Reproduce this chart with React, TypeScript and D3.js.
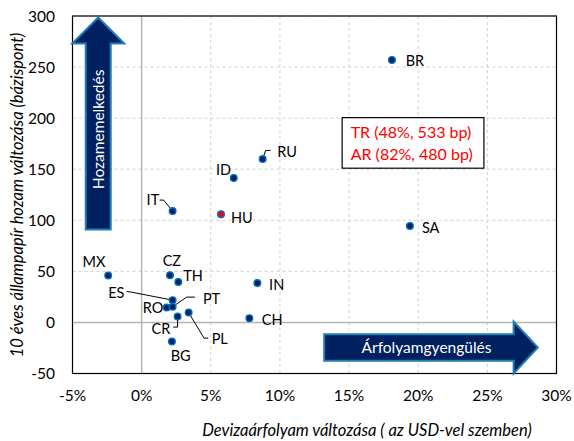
import React from "react";
import * as d3 from "d3";

const countries = ["BR", "RU", "ID", "IT", "HU", "SA", "MX", "CZ", "TH", "ES", "RO", "PT", "CR", "PL", "BG", "IN", "CH"];
const fxChange = [18.1, 8.75, 6.66, 2.24, 5.74, 19.4, -2.42, 2.05, 2.65, 2.24, 1.81, 2.24, 2.6, 3.4, 2.19, 8.37, 7.79];
const yieldChange = [257, 160, 141.5, 109, 106, 94.5, 46, 46.3, 39.7, 21.8, 14.6, 15.3, 5.8, 9.7, -18.7, 38.5, 4.2];
const highlighted = ["HU"];
const xTicks = [-5, 0, 5, 10, 15, 20, 25, 30];
const yTicks = [-50, 0, 50, 100, 150, 200, 250, 300];
const noteLines = ["TR (48%, 533 bp)", "AR (82%, 480 bp)"];

// layout (pixel offsets of labels relative to their point)
const labelOffsets: Record<string, [number, number]> = {
  BR: [13.7, 0.7], RU: [14.6, -7], ID: [-17.7, -7.5], IT: [-26, -11], HU: [10, 4], SA: [12, 2.3],
  MX: [-25.6, -13], CZ: [-7.3, -14.3], TH: [5, -6], ES: [-64.4, -7], RO: [-24, 0], PT: [30.3, -7.7],
  CR: [-26, 12.6], PL: [23, 26.6], BG: [-1.3, 14], IN: [11.7, 1.7], CH: [12.4, 1.7],
};
const leaders: Record<string, [number, number][]> = {
  RU: [[0, 0], [3, -8.6], [8, -8.6]],
  IT: [[0, 0], [-9, -11], [-13, -11]],
  ES: [[0, 0], [-41, -8], [-46, -8.6]],
  PT: [[0, 0], [14, -9.7], [22.3, -9.7]],
  CR: [[0, 0], [0, 10.6], [-4.4, 10.6]],
  PL: [[0, 0], [15.3, 25.6], [19.6, 25.6]],
};

const W = 574, H = 441;
const FONT = "Lato, 'Open Sans', sans-serif";
const NAVY = "#002060";
const EDGE = "#1f7fb5";

export default function App() {
  const x = d3.scaleLinear().domain([-5, 30]).range([72.5, 556.5]);
  const y = d3.scaleLinear().domain([-50, 300]).range([373.5, 16]);
  const [x0, x1] = x.range();
  const [yb, yt] = y.range();

  // vertical arrow
  const vx = x(-3.14);
  const vArrow = d3.path();
  vArrow.moveTo(vx, y(298.5));
  vArrow.lineTo(vx + 26, y(273));
  vArrow.lineTo(vx + 12.5, y(273));
  vArrow.lineTo(vx + 12.5, y(91));
  vArrow.lineTo(vx - 12.5, y(91));
  vArrow.lineTo(vx - 12.5, y(273));
  vArrow.lineTo(vx - 26, y(273));
  vArrow.closePath();

  // horizontal arrow
  const hy = y(-24.5);
  const hArrow = d3.path();
  hArrow.moveTo(x(28.65), hy);
  hArrow.lineTo(x(26.9), hy - 26);
  hArrow.lineTo(x(26.9), hy - 13.2);
  hArrow.lineTo(x(13.2), hy - 13.2);
  hArrow.lineTo(x(13.2), hy + 13.2);
  hArrow.lineTo(x(26.9), hy + 13.2);
  hArrow.lineTo(x(26.9), hy + 26);
  hArrow.closePath();

  const line = d3.line<[number, number]>();

  const boxL = x(14.5), boxR = x(24.75), boxT = y(200.5), boxB = y(151);

  return (
    <svg width={W} height={H} style={{ position: "absolute", left: 0, top: 0, background: "#fff" }} fontFamily={FONT}>
      <rect width={W} height={H} fill="#fff" />
      {/* grid */}
      {xTicks.filter((t) => t !== 0).map((t) => (
        <line key={"gx" + t} x1={x(t)} x2={x(t)} y1={yt} y2={yb} stroke="#d0d0d0" strokeDasharray="3,3" />
      ))}
      {yTicks.filter((t) => t !== 0).map((t) => (
        <line key={"gy" + t} x1={x0} x2={x1} y1={y(t)} y2={y(t)} stroke="#d0d0d0" strokeDasharray="3,3" />
      ))}
      <line x1={x(0)} x2={x(0)} y1={yt} y2={yb} stroke="#b4b4b4" strokeWidth={1.5} />
      <line x1={x0} x2={x1} y1={y(0)} y2={y(0)} stroke="#b4b4b4" strokeWidth={1.5} />
      <rect x={x0} y={yt} width={x1 - x0} height={yb - yt} fill="none" stroke="#000" strokeWidth={1.2} />

      {/* arrows */}
      <path d={vArrow.toString()} fill={NAVY} stroke={EDGE} strokeWidth={2} />
      <text transform={`translate(${vx + 5.5},${y(189)}) rotate(-90)`} textAnchor="middle" fill="#fff" fontSize={15.5}>
        Hozamemelkedés
      </text>
      <path d={hArrow.toString()} fill={NAVY} stroke={EDGE} strokeWidth={2} />
      <text x={x(20.6)} y={hy + 5.5} textAnchor="middle" fill="#fff" fontSize={15.5}>
        Árfolyamgyengülés
      </text>

      {/* leaders */}
      {countries.map((c, i) =>
        leaders[c] ? (
          <path
            key={"l" + c}
            d={line(leaders[c].map(([dx, dy]) => [x(fxChange[i]) + dx, y(yieldChange[i]) + dy]) as [number, number][]) || ""}
            fill="none"
            stroke="#000"
            strokeWidth={1}
          />
        ) : null
      )}

      {/* points */}
      {countries.map((c, i) => (
        <circle
          key={"p" + c}
          cx={x(fxChange[i])}
          cy={y(yieldChange[i])}
          r={3.3}
          fill={highlighted.includes(c) ? "#ff0000" : NAVY}
          stroke="#0070c0"
          strokeWidth={1.4}
        />
      ))}

      {/* labels */}
      {countries.map((c, i) => (
        <text
          key={"t" + c}
          x={x(fxChange[i]) + labelOffsets[c][0]}
          y={y(yieldChange[i]) + labelOffsets[c][1] + 5}
          fontSize={14.5}
          fill="#000"
        >
          {c}
        </text>
      ))}

      {/* note box */}
      <rect x={boxL} y={boxT} width={boxR - boxL} height={boxB - boxT} fill="#fff" stroke="#000" strokeWidth={1.2} />
      {noteLines.map((t, i) => (
        <text key={t} x={boxL + 8.5} y={boxT + 20.5 + i * 22} fontSize={16} fill="#ff0000">
          {t}
        </text>
      ))}

      {/* axes labels */}
      {yTicks.map((t) => (
        <text key={"yt" + t} x={55} y={y(t) + 5.5} textAnchor="end" fontSize={15.5} fill="#000">
          {t}
        </text>
      ))}
      {xTicks.map((t) => (
        <text key={"xt" + t} x={x(t)} y={401} textAnchor="middle" fontSize={15.5} fill="#000">
          {t}%
        </text>
      ))}
      <text
        transform={`translate(23,${195}) rotate(-90)`}
        textAnchor="middle"
        fontSize={16.5}
        fontStyle="italic"
        fill="#000"
      >
        10 éves állampapír hozam változása (bázispont)
      </text>
      <text x={367} y={436} textAnchor="middle" fontSize={16.5} fontStyle="italic" fill="#000">
        Devizaárfolyam változása ( az USD-vel szemben)
      </text>
    </svg>
  );
}
